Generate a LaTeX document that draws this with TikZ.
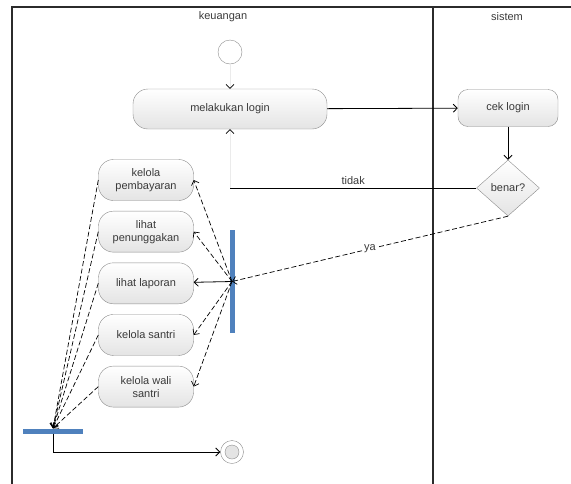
\documentclass[tikz,border=0pt]{standalone}
\usepackage{fontspec}
\setmainfont{Liberation Sans}
\usetikzlibrary{arrows.meta,positioning,shapes.geometric}
\definecolor{UmlBar}{HTML}{4F81BD}
\definecolor{UmlEdge}{HTML}{8C8C8C}
\definecolor{UmlText}{HTML}{3A3A3A}
\definecolor{UmlFill}{HTML}{E4E4E4}
\definecolor{UmlLine}{HTML}{2B2B2B}
\tikzset{
  action/.style={draw=UmlEdge,rounded corners=15pt,top color=white,bottom color=UmlFill,
    align=center,minimum height=41pt,minimum width=95pt,inner sep=2pt,
    font=\fontsize{11}{13}\selectfont,text=UmlText},
  decision/.style={diamond,draw=UmlEdge,top color=white,bottom color=UmlFill,inner sep=0pt,
    minimum width=63pt,minimum height=56pt,font=\fontsize{11}{13}\selectfont,text=UmlText},
  start/.style={circle,draw=UmlEdge,fill=white,minimum size=24pt,inner sep=0pt},
  finish/.style={circle,draw=UmlEdge,fill=white,minimum size=23pt,inner sep=0pt,
    path picture={\draw[UmlEdge,fill=UmlFill] (path picture bounding box.center) circle (7pt);}},
  bar/.style={rectangle,fill=UmlBar,inner sep=0pt},
  lanetitle/.style={font=\fontsize{11}{13}\selectfont,text=UmlText},
  lane/.style={draw=UmlLine,line width=1.1pt},
  flow/.style={-{Straight Barb[length=4pt,width=8pt]},draw=black,line width=0.8pt},
  faint/.style={-{Straight Barb[length=4pt,width=8pt,color=black]},draw=black!8,line width=0.6pt},
  choice/.style={flow,dashed,dash pattern=on 5pt off 2.5pt,line width=0.7pt},
  label/.style={font=\fontsize{11}{13}\selectfont,text=UmlText}
}

\begin{document}
\begin{tikzpicture}[x=1pt,y=-1pt,node distance=10.25pt]
  \useasboundingbox (0,0) rectangle (571,483);
  % swimlanes
  \draw[lane] (12,490) -- (12,7) -- (580,7);
  \draw[lane] (433,7) -- (433,490);
  \node[lanetitle] (kLane) at (223,17) {keuangan};
  \node[lanetitle] (sLane) at (507,17) {sistem};

  \node[start] (init) at (230,52) {};
  \node[action,minimum width=194pt,minimum height=40pt] (login) at (230,109) {melakukan login};
  \node[action,minimum width=100pt,minimum height=37pt,rounded corners=10pt] (cek) at (508,108) {cek login};
  \node[decision] (dec) at (508,188) {benar?};
  \node[action] (bayar) at (146,180) {kelola\\pembayaran};
  \node[action,below=of bayar] (tunggak) {lihat\\penunggakan};
  \node[action,below=of tunggak] (lapor) {lihat laporan};
  \node[action,below=of lapor] (santri) {kelola santri};
  \node[action,below=of santri] (wali) {kelola wali\\santri};
  \node[bar,minimum width=5pt,minimum height=103pt] (fork) at (232,281.5) {};
  \node[bar,minimum width=60pt,minimum height=5pt] (join) at (53,431) {};
  \node[finish] (end) at (232,452) {};
  \coordinate (tturn) at (230,188);

  \draw[faint] (init) -- (login);
  \draw[flow] (login) -- (cek);
  \draw[flow] (cek) -- (dec);
  \draw[flow,-] (dec) -- node[label,above]{tidak} (tturn);
  \draw[faint] (tturn) -- (login);
  \draw[choice] (dec.south) -- node[label,fill=white,inner sep=1pt]{ya} (fork.center);
  \foreach \n in {bayar,tunggak,santri,wali}
    \draw[choice] (fork.center) -- (\n.east);
  \draw[flow] (fork.center) -- (lapor);
  \foreach \n in {bayar,tunggak,lapor,santri,wali}
    \draw[choice] (\n.west) -- (join.north);
  \draw[flow] (join.south) |- (end);
\end{tikzpicture}
\end{document}
